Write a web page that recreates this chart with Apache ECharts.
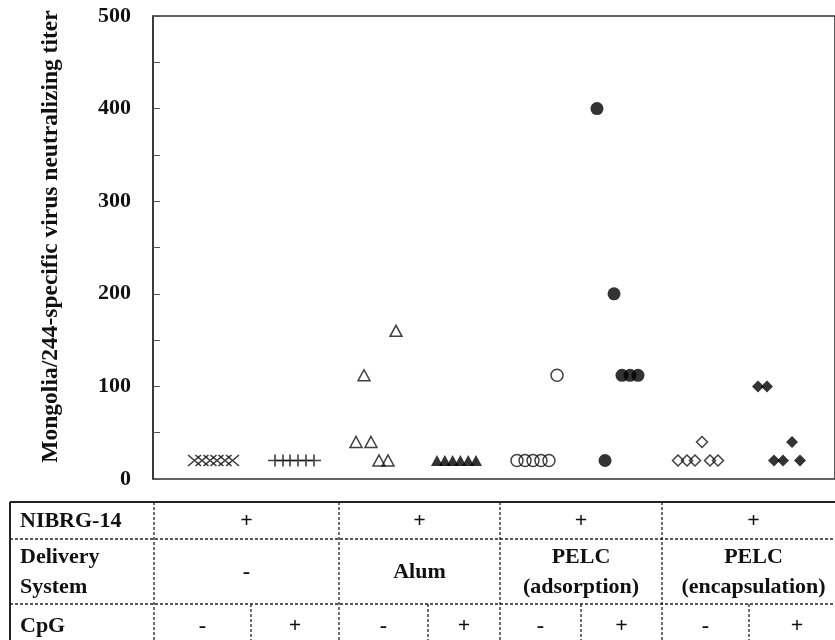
<!DOCTYPE html>
<html><head><meta charset="utf-8">
<script src="https://cdn.jsdelivr.net/npm/echarts@6/dist/echarts.min.js"></script>
<style>html,body{margin:0;padding:0;background:#fff}#c{width:835px;height:640px}</style>
</head><body><div id="c"></div><script>
// ---- DATA (x = horizontal position as % of plot width, y = titer) ----
const yTicks = [0, 100, 200, 300, 400, 500];
const yTitle = 'Mongolia/244-specific virus neutralizing titer';

const g1X = [6.09, 7.18, 8.36, 9.38, 10.56, 11.66];       // NIBRG-14, CpG -
const g1Y = [20, 20, 20, 20, 20, 20];
const g2X = [17.89, 19.06, 20.09, 21.26, 22.43, 23.61];   // NIBRG-14, CpG +
const g2Y = [20, 20, 20, 20, 20, 20];
const g3X = [35.63, 30.94, 29.77, 31.96, 33.14, 34.46];   // Alum, CpG -
const g3Y = [160, 112, 40, 40, 20, 20];
const g4X = [41.64, 42.79, 43.93, 45.07, 46.22, 47.36];   // Alum, CpG +
const g4Y = [20, 20, 20, 20, 20, 20];
const g5X = [53.37, 54.55, 55.72, 56.89, 58.06, 59.24];   // PELC ads, CpG -
const g5Y = [20, 20, 20, 20, 20, 112];
const g6X = [65.10, 67.60, 68.77, 69.94, 71.11, 66.28];   // PELC ads, CpG +
const g6Y = [400, 200, 112, 112, 112, 20];
const g7X = [76.98, 78.30, 79.47, 81.67, 82.84, 80.50];   // PELC enc, CpG -
const g7Y = [20, 20, 20, 20, 20, 40];
const g8X = [88.71, 90.03, 93.70, 91.06, 92.38, 94.87];   // PELC enc, CpG +
const g8Y = [100, 100, 40, 20, 20, 20];

const rowLabels = ['NIBRG-14', 'Delivery\nSystem', 'CpG'];
const nibrgRow = ['+', '+', '+', '+'];
const deliveryRow = ['-', 'Alum', 'PELC\n(adsorption)', 'PELC\n(encapsulation)'];
const cpgRow = ['-', '+', '-', '+', '-', '+', '-', '+'];

// ---- STYLE ----
const FF = '"Liberation Serif","Times New Roman",serif';
const INK = '#111';
const zip = (xs, ys) => xs.map((x, i) => [x, ys[i]]);
const open = { color: 'rgba(0,0,0,0)', borderColor: INK, borderWidth: 1.5 };
const filled = { color: '#000', borderWidth: 0 };
const X_PATH = 'path://M0,0L10,10M10,0L0,10';
const PLUS_PATH = 'path://M0,5L10,5M5,0L5,10';

const seriesDefs = [
  { name: 'NIBRG-14, CpG-', d: zip(g1X, g1Y), symbol: X_PATH, size: [13, 11], st: open },
  { name: 'NIBRG-14, CpG+', d: zip(g2X, g2Y), symbol: PLUS_PATH, size: [14, 12], st: open },
  { name: 'Alum, CpG-', d: zip(g3X, g3Y), symbol: 'triangle', size: [12, 11], st: open },
  { name: 'Alum, CpG+', d: zip(g4X, g4Y), symbol: 'triangle', size: [12, 11], st: filled },
  { name: 'PELC ads, CpG-', d: zip(g5X, g5Y), symbol: 'circle', size: 12, st: open },
  { name: 'PELC ads, CpG+', d: zip(g6X, g6Y), symbol: 'circle', size: 13, st: filled },
  { name: 'PELC enc, CpG-', d: zip(g7X, g7Y), symbol: 'diamond', size: [11, 11], st: open },
  { name: 'PELC enc, CpG+', d: zip(g8X, g8Y), symbol: 'diamond', size: [12, 12], st: filled }
];

// ---- TABLE LAYOUT (pixels) ----
const T = { left: 10, right: 845, top: 502, r1: 539, r2: 604, bottom: 660 };
const groupEdges = [154, 339, 500, 662, 845];
const subEdges = [251, 428, 581, 749];
const dash = { stroke: '#222', lineWidth: 1.3, lineDash: [3, 2] };
const solid = { stroke: '#222', lineWidth: 2 };
const txt = (text, x, y, align) => ({
  type: 'text', x, y, silent: true,
  style: { text, x: 0, y: 0, align: align || 'center', verticalAlign: 'middle',
    fontFamily: FF, fontWeight: 'bold', fontSize: 22, lineHeight: 30, fill: INK }
});
const line = (x1, y1, x2, y2, style) => ({ type: 'line', silent: true, shape: { x1, y1, x2, y2 }, style });

const graphics = [];
graphics.push(line(T.left, T.top, T.right, T.top, solid));
graphics.push(line(T.left, T.top, T.left, T.bottom, solid));
graphics.push(line(T.left, T.r1, T.right, T.r1, dash));
graphics.push(line(T.left, T.r2, T.right, T.r2, dash));
groupEdges.slice(0, 4).forEach(x => graphics.push(line(x, T.top, x, T.bottom, dash)));
subEdges.forEach(x => graphics.push(line(x, T.r2, x, T.bottom, dash)));
graphics.push(txt(rowLabels[0], 20, 521, 'left'));
graphics.push(txt(rowLabels[1], 20, 572, 'left'));
graphics.push(txt(rowLabels[2], 20, 626, 'left'));
const allEdges = [154, 251, 339, 428, 500, 581, 662, 749, 845];
for (let i = 0; i < 4; i++) {
  const cx = (groupEdges[i] + groupEdges[i + 1]) / 2;
  graphics.push(txt(nibrgRow[i], cx, 521));
  graphics.push(txt(deliveryRow[i], cx, 572));
}
for (let i = 0; i < 8; i++) {
  graphics.push(txt(cpgRow[i], (allEdges[i] + allEdges[i + 1]) / 2, 626));
}

const chart = echarts.init(document.getElementById('c'));
chart.setOption({
  animation: false,
  backgroundColor: '#fff',
  grid: { left: 153, right: -2, top: 16, bottom: 161, show: true, borderColor: '#333', borderWidth: 1.6 },
  xAxis: { type: 'value', min: 0, max: 100, show: false },
  yAxis: {
    type: 'value', min: yTicks[0], max: yTicks[yTicks.length - 1], interval: 100,
    name: yTitle, nameLocation: 'middle', nameGap: 90,
    nameTextStyle: { fontFamily: FF, fontWeight: 'bold', fontSize: 23.5, color: INK, padding: [0, 0, 0, 22] },
    axisLine: { show: true, lineStyle: { color: '#333', width: 1.6 } },
    axisTick: { show: true, inside: true, length: 7, lineStyle: { color: '#555' } },
    minorTick: { show: true, splitNumber: 2, length: 7, lineStyle: { color: '#555' } },
    splitLine: { show: false },
    axisLabel: { margin: 22, fontFamily: FF, fontWeight: 'bold', fontSize: 22, color: INK }
  },
  series: seriesDefs.map(s => ({
    type: 'scatter', name: s.name, data: s.d, symbol: s.symbol, symbolSize: s.size,
    itemStyle: s.st, emphasis: { disabled: true }
  })),
  graphic: graphics
});
</script></body></html>
